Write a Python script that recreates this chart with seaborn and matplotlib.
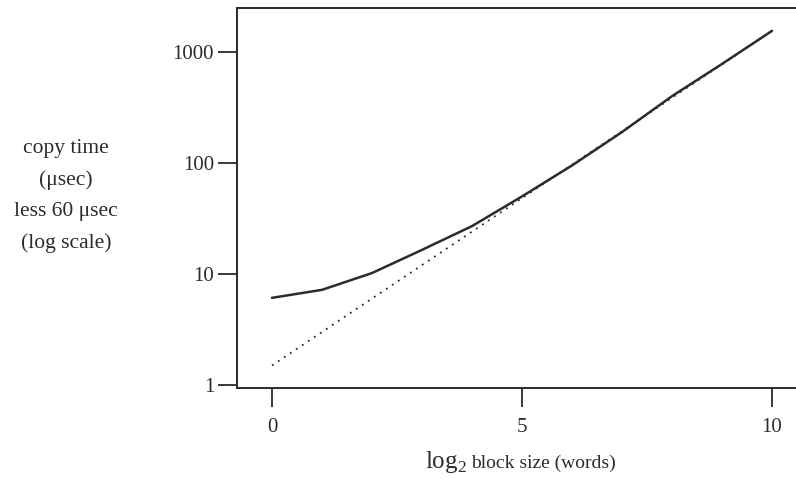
import matplotlib
matplotlib.use("Agg")
import matplotlib.pyplot as plt
import pandas as pd
import seaborn as sns

# measured copy time, log2 block size 0..10
block_log2 = [0, 1, 2, 3, 4, 5, 6, 7, 8, 9, 10]
copy_us = [6.1, 7.2, 10.2, 16.5, 27, 50, 95, 190, 400, 780, 1550]

# asymptotic (dotted) reference line
ref_x = [0, 10]
ref_y = [1.5, 1550]

INK = "#2b2b2b"

sns.set_theme(style="ticks")
plt.rcParams["font.family"] = ["Liberation Serif", "DejaVu Serif"]
plt.rcParams["mathtext.fontset"] = "custom"
plt.rcParams["mathtext.rm"] = "Liberation Serif"

df = pd.DataFrame({"x": block_log2, "y": copy_us})
df_ref = pd.DataFrame({"x": ref_x, "y": ref_y})

fig = plt.figure(figsize=(7.96, 4.8), dpi=100)
ax = fig.add_axes([237 / 796, 1 - 388 / 480, (796 - 237) / 796, 380 / 480])

sns.lineplot(data=df, x="x", y="y", ax=ax, color=INK, lw=1.8)
sns.lineplot(data=df_ref, x="x", y="y", ax=ax, color=INK, lw=1.3,
             linestyle=(0, (1, 3)))

ax.set_yscale("log")
ax.set_xlim(-0.7, 10.48)
ax.set_ylim(0.94, 2490)
ax.set_xticks([0, 5, 10])
ax.set_xticklabels(["0", "5", "10"])
ax.set_yticks([1, 10, 100, 1000])
ax.set_yticklabels(["1", "10", "100", "1000"])
ax.minorticks_off()

ax.spines["right"].set_visible(False)
for s in ["left", "top", "bottom"]:
    ax.spines[s].set_color(INK)
    ax.spines[s].set_linewidth(1.4)
ax.tick_params(axis="both", colors=INK, length=13.5, width=1.3, labelsize=15)
ax.tick_params(axis="y", pad=3)
ax.tick_params(axis="x", pad=8)

ax.set_xlabel("")
ax.set_ylabel("")

fig.text(66 / 796, 1 - 196 / 480, "copy time\n(\u03bcsec)\nless 60 \u03bcsec\n(log scale)",
         ha="center", va="center", multialignment="center", fontsize=15.5,
         linespacing=1.85, color=INK)

fig.text(467 / 796, 1 - 468 / 480, r"$\mathrm{log}_2$", ha="right", va="baseline",
         fontsize=18, color=INK)
fig.text(471 / 796, 1 - 468 / 480, "block size (words)", ha="left", va="baseline",
         fontsize=14, color=INK)

plt.savefig("out.png", dpi=100)
plt.close()
